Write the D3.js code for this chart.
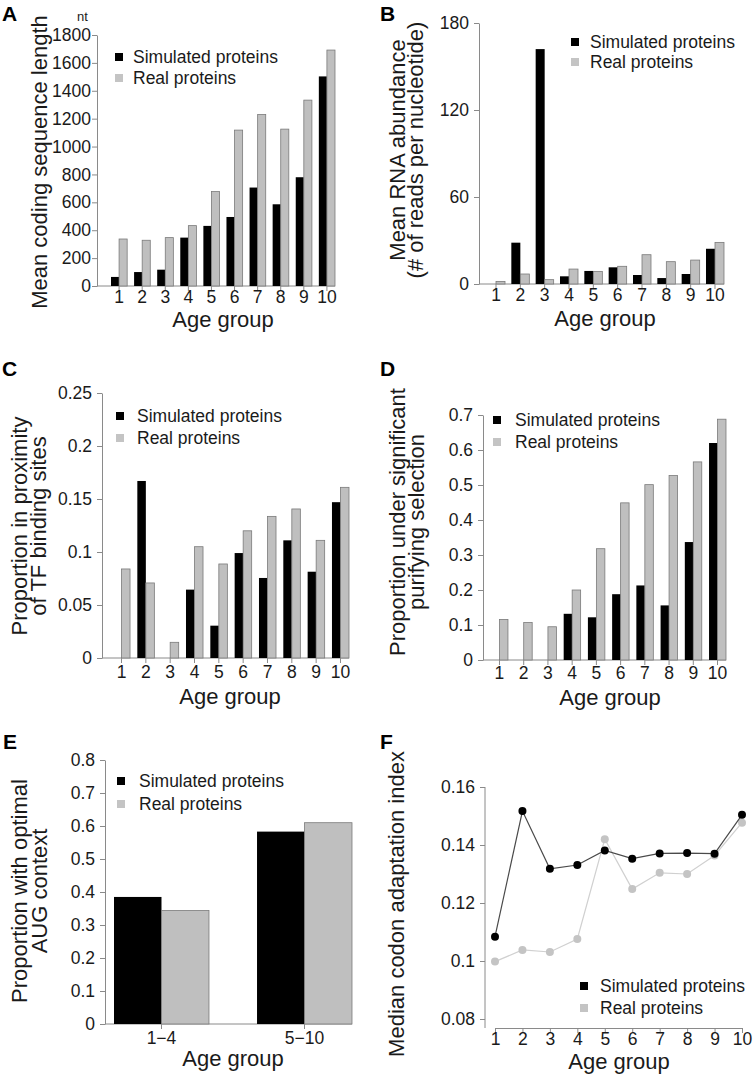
<!DOCTYPE html>
<html>
<head>
<meta charset="utf-8">
<script src="https://cdn.jsdelivr.net/npm/d3@7"></script>
<style>
body { margin: 0; background: #fff; }
text { font-family: "Liberation Sans", Arial, sans-serif; fill: #1a1a1a; }
.letter { font-family: "Liberation Sans", Arial, sans-serif; font-weight: 700; font-size: 21px; fill: #000; }
.title { font-size: 22px; }
</style>
</head>
<body>
<svg width="755" height="1075"></svg>
<script>
// values
var ageGroups = ["1", "2", "3", "4", "5", "6", "7", "8", "9", "10"];
var legendLabels = ["Simulated proteins", "Real proteins"];

var lengthSim = [65, 100, 117, 347, 431, 495, 706, 586, 780, 1503];
var lengthReal = [337, 328, 347, 433, 677, 1118, 1230, 1125, 1333, 1692];
var lengthTicks = [0, 200, 400, 600, 800, 1000, 1200, 1400, 1600, 1800];

var rnaSim = [0, 28.5, 162, 5.3, 9, 11.5, 6.2, 4.1, 6.9, 24.3];
var rnaReal = [1.8, 6.9, 3, 10.3, 8.7, 12.2, 20.2, 15.4, 16.5, 28.7];
var rnaTicks = [0, 60, 120, 180];

var tfSim = [0, 0.167, 0, 0.0645, 0.0305, 0.099, 0.0755, 0.111, 0.0814, 0.147];
var tfReal = [0.084, 0.0708, 0.0148, 0.105, 0.0887, 0.12, 0.1336, 0.1406, 0.111, 0.161];
var tfTicks = [0, 0.05, 0.1, 0.15, 0.2, 0.25];

var purifSim = [0, 0, 0, 0.132, 0.122, 0.188, 0.213, 0.156, 0.337, 0.62];
var purifReal = [0.116, 0.107, 0.095, 0.2, 0.318, 0.449, 0.501, 0.527, 0.566, 0.688];
var purifTicks = [0, 0.1, 0.2, 0.3, 0.4, 0.5, 0.6, 0.7];

var augGroups = ["1\u22124", "5\u221210"];
var augSim = [0.385, 0.583];
var augReal = [0.344, 0.61];
var augTicks = [0, 0.1, 0.2, 0.3, 0.4, 0.5, 0.6, 0.7, 0.8];

var caiSim = [0.1084, 0.1517, 0.1318, 0.1331, 0.1381, 0.1353, 0.1371, 0.1372, 0.137, 0.1504];
var caiReal = [0.0998, 0.1038, 0.1031, 0.1076, 0.142, 0.1248, 0.1304, 0.13, 0.1364, 0.1477];
var caiTicks = [0.08, 0.1, 0.12, 0.14, 0.16];

var svg = d3.select("svg");
var axisCol = "#8a8a8a", simCol = "#000", realCol = "#bfbfbf";

function styleAxis(a) {
    a.select(".domain").attr("stroke", axisCol);
    a.selectAll(".tick line").attr("stroke", axisCol);
    a.selectAll(".tick text").attr("font-size", "17.5px").attr("font-family", "Liberation Sans, Arial, sans-serif").attr("fill", "#1a1a1a");
    a.attr("font-family", null).attr("font-size", null);
}

function legend(p) {
    var cols = [simCol, "#c4c4c4"];
    legendLabels.forEach(function (t, i) {
        var cy = p.ly[i];
        svg.append("rect").attr("x", p.lx - 4).attr("y", cy - 4).attr("width", 8).attr("height", 8).attr("fill", cols[i]);
        svg.append("text").attr("x", p.tx).attr("y", cy + 6).attr("font-size", "17.5px").text(t);
    });
}

function titles(p) {
    svg.append("text").attr("class", "letter").attr("x", p.letter[0]).attr("y", p.letter[1]).text(p.name);
    svg.append("text").attr("class", "title").attr("text-anchor", "middle")
        .attr("x", p.xt[0]).attr("y", p.xt[1]).text("Age group");
    p.ylab.forEach(function (t, i) {
        svg.append("text").attr("class", "title").attr("text-anchor", "middle")
            .attr("transform", "translate(" + p.ybase[i] + "," + p.ymid + ") rotate(-90)")
            .text(t);
    });
}

function barPanel(p, cats, sim, real, ticks) {
    var y = d3.scaleLinear().domain([0, d3.max(ticks)]).range([p.y0, p.y1]);
    var x = d3.scaleBand().domain(cats).range([p.xa, p.xb]).paddingInner(p.pad).paddingOuter(0);
    var half = x.bandwidth() / 2;
    var g = svg.append("g");

    g.append("line").attr("x1", p.axisX).attr("x2", p.xb).attr("y1", y(0)).attr("y2", y(0)).attr("stroke", axisCol);

    g.selectAll(".sim").data(cats).enter().append("rect")
        .attr("x", function (d) { return x(d); })
        .attr("width", half)
        .attr("y", function (d, i) { return y(sim[i]); })
        .attr("height", function (d, i) { return y(0) - y(sim[i]); })
        .attr("fill", simCol);

    g.selectAll(".real").data(cats).enter().append("rect")
        .attr("x", function (d) { return x(d) + half; })
        .attr("width", half)
        .attr("y", function (d, i) { return y(real[i]); })
        .attr("height", function (d, i) { return y(0) - y(real[i]); })
        .attr("fill", realCol).attr("stroke", "#7a7a7a").attr("stroke-width", 0.8);

    var ya = g.append("g").attr("transform", "translate(" + p.axisX + ",0)")
        .call(d3.axisLeft(y).tickValues(ticks).tickFormat(String).tickSize(5).tickSizeOuter(0).tickPadding(p.tp));
    styleAxis(ya);

    var xa = g.append("g").attr("transform", "translate(0," + y(0) + ")")
        .call(d3.axisBottom(x).tickSize(5).tickPadding(p.xtp));
    styleAxis(xa);
    xa.select(".domain").remove();

    legend(p);
    titles(p);
}

barPanel({
    name: "A", letter: [2, 21], axisX: 97, y0: 286, y1: 35, xa: 111, xb: 335, pad: 0.3, tp: 1, xtp: 0,
    lx: 119, ly: [57, 78], tx: 133, xt: [223, 327], ylab: ["Mean coding sequence length"], ybase: [47], ymid: 162
}, ageGroups, lengthSim, lengthReal, lengthTicks);
svg.append("text").attr("x", 77).attr("y", 21).attr("font-size", "13px").text("nt");

barPanel({
    name: "B", letter: [380, 21], axisX: 479, y0: 284, y1: 23, xa: 487, xb: 724, pad: 0.26, tp: 5, xtp: 0,
    lx: 575, ly: [42, 62], tx: 590, xt: [605, 326], ylab: ["Mean RNA abundance", "(# of reads per nucleotide)"], ybase: [405, 423], ymid: 150
}, ageGroups, rnaSim, rnaReal, rnaTicks);

barPanel({
    name: "C", letter: [2, 376], axisX: 102, y0: 658, y1: 393, xa: 113, xb: 349, pad: 0.3, tp: 5, xtp: 3,
    lx: 120, ly: [416, 438], tx: 137, xt: [230, 704], ylab: ["Proportion in proximity", "of TF binding sites"], ybase: [27, 45.5], ymid: 526
}, ageGroups, tfSim, tfReal, tfTicks);

barPanel({
    name: "D", letter: [380, 376], axisX: 483, y0: 660, y1: 415, xa: 491, xb: 726, pad: 0.3, tp: 5, xtp: 2,
    lx: 497, ly: [420, 442], tx: 515, xt: [610, 705], ylab: ["Proportion under significant", "purifying selection"], ybase: [405, 424], ymid: 522
}, ageGroups, purifSim, purifReal, purifTicks);

barPanel({
    name: "E", letter: [3, 749], axisX: 105, y0: 1024, y1: 760, xa: 114, xb: 352, pad: 0.336, tp: 5, xtp: 3,
    lx: 121, ly: [781, 804], tx: 139, xt: [233, 1066], ylab: ["Proportion with optimal", "AUG context"], ybase: [27, 47], ymid: 891
}, augGroups, augSim, augReal, augTicks);

// panel F: line chart
(function () {
    var p = {
        name: "F", letter: [380, 749], lx: 584, ly: [986, 1008], tx: 600, xt: [619, 1069],
        ylab: ["Median codon adaptation index"], ybase: [404], ymid: 904
    };
    var x = d3.scalePoint().domain(ageGroups).range([495, 742]);
    var y = d3.scaleLinear().domain([d3.min(caiTicks), d3.max(caiTicks)]).range([1019, 787]);
    var axisY = 1028, axisX = 485;
    var g = svg.append("g");

    var ya = g.append("g").attr("transform", "translate(" + axisX + ",0)")
        .call(d3.axisLeft(y).tickValues(caiTicks).tickFormat(String).tickSize(5).tickSizeOuter(0).tickPadding(5));
    styleAxis(ya);
    ya.select(".domain").remove();
    g.append("line").attr("x1", axisX).attr("x2", axisX).attr("y1", y(0.16)).attr("y2", axisY).attr("stroke", axisCol);

    var xa = g.append("g").attr("transform", "translate(0," + axisY + ")")
        .call(d3.axisBottom(x).tickSize(5).tickSizeOuter(0).tickPadding(0));
    styleAxis(xa);

    var series = [{ v: caiReal, line: "#d0d0d0", dot: "#c4c4c4" }, { v: caiSim, line: "#4a4a4a", dot: "#000" }];
    series.forEach(function (s) {
        var line = d3.line().x(function (d, i) { return x(ageGroups[i]); }).y(function (d) { return y(d); });
        g.append("path").datum(s.v).attr("d", line).attr("fill", "none").attr("stroke", s.line).attr("stroke-width", 1.2);
        g.selectAll(null).data(s.v).enter().append("circle")
            .attr("cx", function (d, i) { return x(ageGroups[i]); })
            .attr("cy", function (d) { return y(d); })
            .attr("r", 4).attr("fill", s.dot);
    });

    legend(p);
    titles(p);
})();
</script>
</body>
</html>
